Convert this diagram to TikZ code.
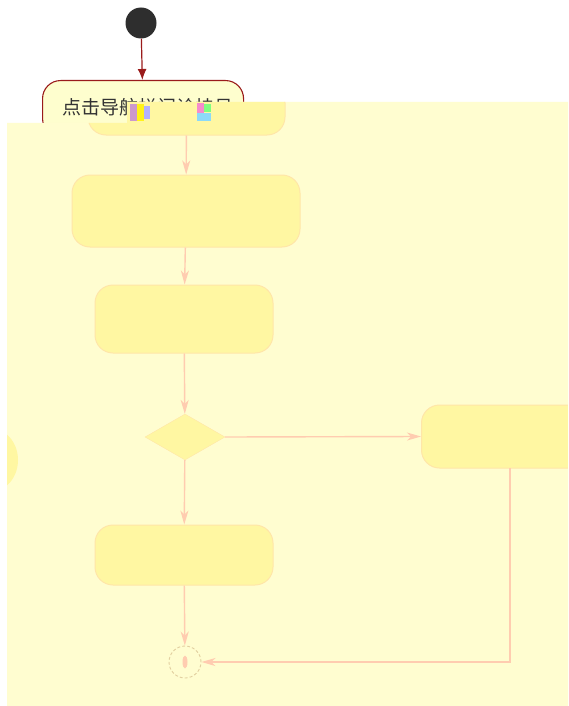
\documentclass[tikz,border=0pt]{standalone}
\usepackage{fontspec}
\newfontfamily\cjk{Noto Sans CJK SC}
\usetikzlibrary{shapes.geometric,arrows.meta}
\definecolor{darkred}{HTML}{9A1B1B}
\definecolor{nodefill}{HTML}{FEFECE}
\definecolor{overlay}{HTML}{FFFDD0}
\definecolor{pillY}{HTML}{FFF7A2}
\definecolor{pillEdge}{HTML}{FFE6A8}
\definecolor{lineC}{HTML}{FFCCB0}
\definecolor{endC}{HTML}{E2CFA0}
\tikzset{
  actbox/.style={rectangle, rounded corners=18pt, inner sep=0pt},
  origbox/.style={actbox, draw=darkred, line width=1.1pt, fill=nodefill},
  fadedbox/.style={actbox, draw=pillEdge, line width=1pt, fill=pillY},
  origline/.style={draw=darkred, line width=1.2pt, -{Latex[length=11pt,width=9pt]}},
  fadedline/.style={draw=lineC, line width=1.4pt, -{Stealth[length=14pt,width=8pt,inset=4pt]}},
}
\begin{document}
\begin{tikzpicture}[x=1pt,y=-1pt]
\useasboundingbox (0,0) rectangle (568,706);
\fill[white] (0,0) rectangle (568,706);
% original (visible) part
\node[circle, fill=black!82, minimum size=31pt, inner sep=0pt] (start) at (141,23) {};
\node[origbox, minimum width=201pt, minimum height=56pt, anchor=north west] (top) at (42,80) {};
\node[anchor=west, font=\cjk\fontsize{19pt}{21pt}\selectfont, text=black!80] (toptext) at (59,107) {点击导航栏门诊挂号};
\draw[origline] (start) -- (top);
% overlay
\path[fill=overlay] (7,123) -- (127,123) -- (127,102) -- (568,102) -- (568,706) -- (7,706) -- cycle;
\begin{scope}
\clip (7,123) -- (127,123) -- (127,102) -- (568,102) -- (568,706) -- (7,706) -- cycle;
\node[fadedbox, minimum width=197pt, minimum height=50pt] (p1) at (186.5,110) {};
\node[fadedbox, minimum width=228pt, minimum height=72pt] (p2) at (186,211) {};
\node[fadedbox, minimum width=178pt, minimum height=68pt] (p3) at (184,319) {};
\node[diamond, draw=pillEdge, fill=pillY, inner sep=0pt, aspect=1.74, minimum width=80pt, minimum height=46pt] (d) at (185,437) {};
\node[fadedbox, minimum width=170pt, minimum height=63pt, anchor=west] (p4) at (421,436.5) {};
\node[fadedbox, minimum width=178pt, minimum height=60pt] (p5) at (184,555) {};
\node[ellipse, fill=pillY, minimum width=56pt, minimum height=64pt] (left) at (-10,460) {};
\node[circle, draw=endC, densely dashed, line width=0.9pt, minimum size=32pt, inner sep=0pt] (end) at (185,662) {};
\node[ellipse, fill=lineC, minimum width=5pt, minimum height=13pt, inner sep=0pt] (enddot) at (end) {};
\draw[fadedline] (p1) -- (p2);
\draw[fadedline] (p2) -- (p3);
\draw[fadedline] (p3) -- (d);
\draw[fadedline] (d.east) -- (p4.west);
\draw[fadedline] (d) -- (p5);
\draw[fadedline] (p5) -- (end);
\coordinate (p4b) at (510,468);
\draw[fadedline] (p4b) |- (end.east);
\end{scope}
% noise patches over the text
\fill[violet!40] (130,104) rectangle (137,121);
\fill[yellow!90] (137,104) rectangle (144,121);
\fill[blue!30] (144,106) rectangle (150,119);
\fill[magenta!45] (197,103) rectangle (204,113);
\fill[green!50] (204,104) rectangle (211,112);
\fill[cyan!45] (197,113) rectangle (211,121);
\end{tikzpicture}
\end{document}
